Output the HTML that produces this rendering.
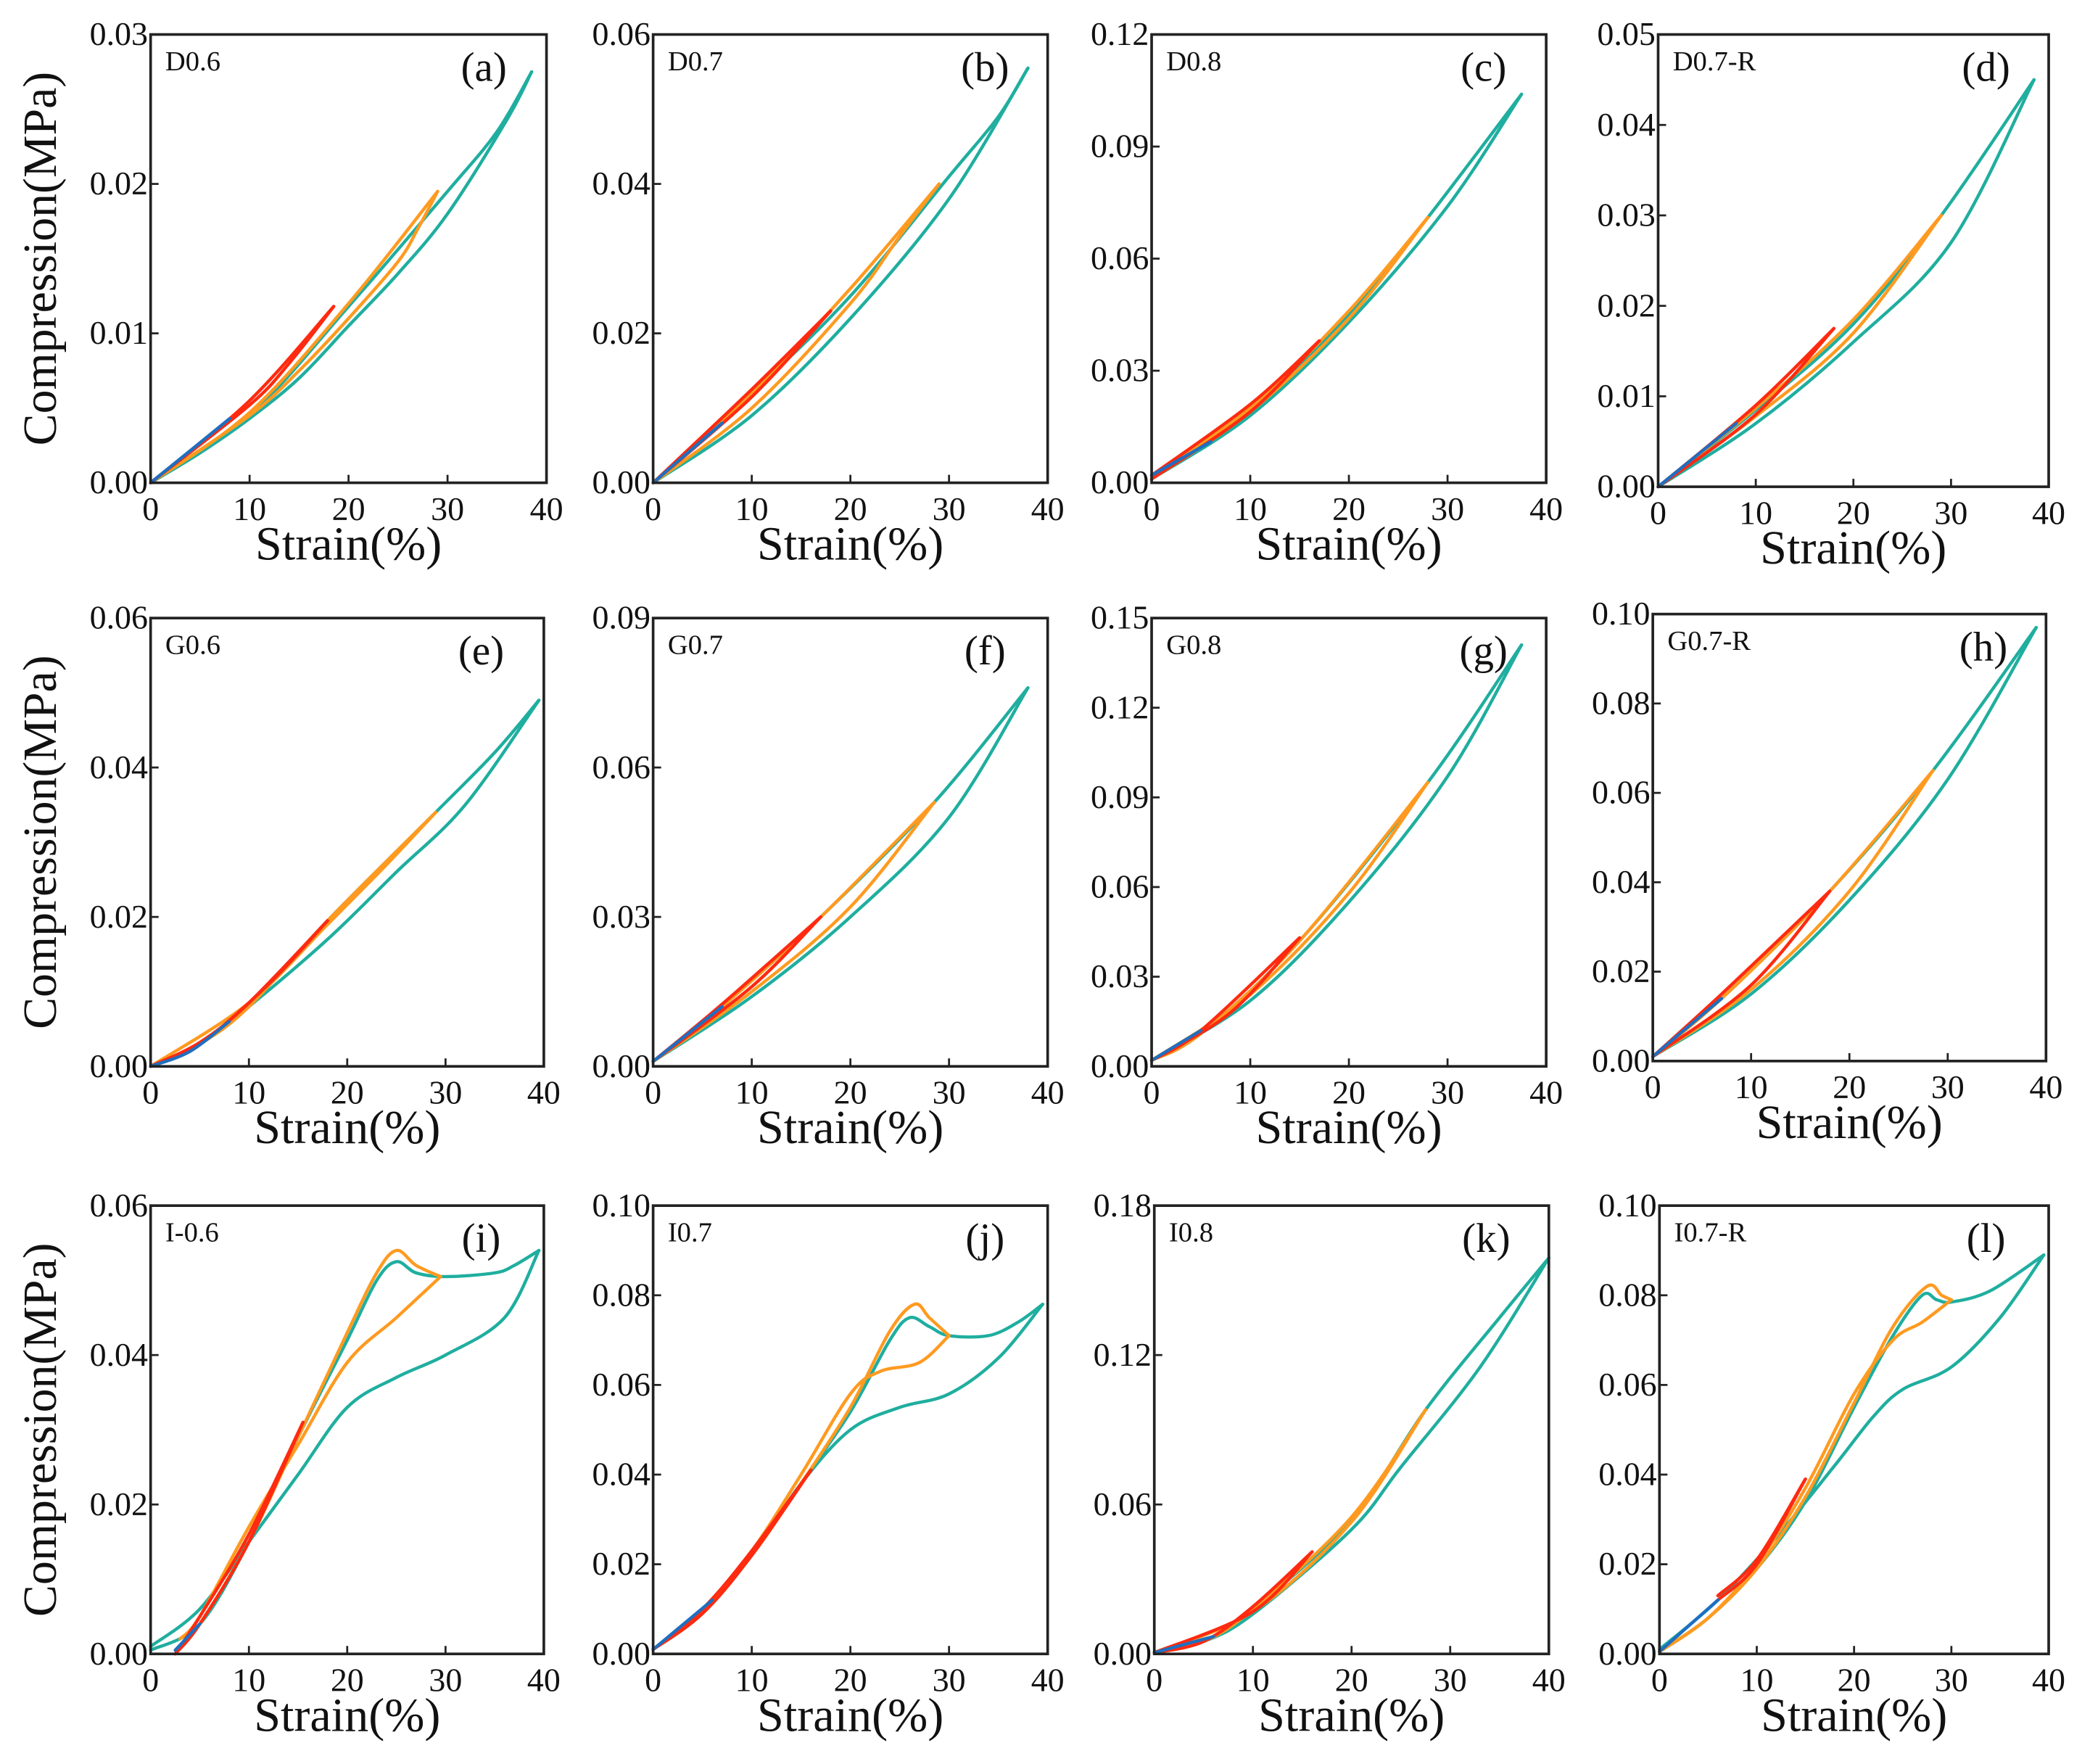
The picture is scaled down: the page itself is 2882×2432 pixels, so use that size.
<!DOCTYPE html>
<html><head><meta charset="utf-8"><style>
html,body{margin:0;padding:0;background:#fff;}
svg{display:block;font-family:"Liberation Serif","Times New Roman",serif;}
svg text{font-family:"Liberation Serif","Times New Roman",serif;fill:#111;}
</style></head><body>
<svg id="fig" width="2882" height="2432" viewBox="0 0 1568 1330" preserveAspectRatio="none" font-family="Liberation Serif, serif" xmlns="http://www.w3.org/2000/svg"></svg>
<script>
// ---- data (strain %, stress MPa) ----
const aTealUp=[[0,0],[10,0.0045],[20,0.0118],[30,0.0195],[35,0.0235],[38.5,0.0275]];
const aTealDown=[[38.5,0.0275],[36,0.0243],[30,0.018],[25,0.014],[20,0.0105],[15,0.007],[10,0.0043],[5,0.002],[0,0]];
const aOrUp=[[0,0],[10,0.0047],[20,0.012],[29,0.0195]];
const aOrDown=[[29,0.0195],[27,0.017],[25,0.0148],[20,0.011],[15,0.0075],[10,0.0045],[0,0]];
const aRedUp=[[0,0],[10,0.0055],[18.5,0.0118]];
const aRedDown=[[18.5,0.0118],[14,0.008],[10,0.0052],[0,0]];
const aBlue=[[0,0],[8,0.0043]];

const bTealUp=[[0,0],[10,0.012],[20,0.025],[30,0.041],[35,0.049],[38,0.0555]];
const bTealDown=[[38,0.0555],[30,0.038],[20,0.022],[10,0.009],[0,0]];
const bOrUp=[[0,0],[10,0.012],[20,0.026],[29,0.040]];
const bOrDown=[[29,0.040],[25,0.033],[20,0.024],[10,0.010],[0,0]];
const bRedUp=[[0,0],[10,0.0125],[18,0.023]];
const bRedDown=[[18,0.023],[10,0.0115],[0,0]];
const bBlue=[[0,0],[7,0.008]];

const cTealUp=[[0,0.002],[10,0.02],[20,0.045],[28,0.071],[37.5,0.104]];
const cTealDown=[[37.5,0.104],[30,0.074],[20,0.043],[10,0.018],[0,0.001]];
const cOrUp=[[0,0.002],[10,0.02],[20,0.046],[28,0.071]];
const cOrDown=[[28,0.071],[20,0.044],[10,0.019],[0,0.001]];
const cRedUp=[[0,0.002],[10,0.021],[17,0.038]];
const cRedDown=[[17,0.038],[10,0.019],[0,0.001]];
const cBlue=[[0,0.002],[6,0.011]];

const dTealUp=[[0,0],[10,0.0085],[20,0.018],[29,0.030],[38.5,0.045]];
const dTealDown=[[38.5,0.045],[30,0.027],[20,0.016],[10,0.007],[0,0]];
const dOrUp=[[0,0],[10,0.0087],[20,0.0185],[29,0.030]];
const dOrDown=[[29,0.030],[20,0.017],[10,0.0078],[0,0]];
const dRedUp=[[0,0],[10,0.009],[18,0.0175]];
const dRedDown=[[18,0.0175],[10,0.008],[0,0]];
const dBlue=[[0,0],[8,0.007]];

const eTealUp=[[0,0],[5,0.003],[10,0.008],[18,0.0195],[29,0.034],[35,0.042],[39.5,0.049]];
const eTealDown=[[39.5,0.049],[32,0.035],[25,0.026],[18,0.017],[10,0.008],[5,0.003],[0,0]];
const eOrUp=[[0,0],[5,0.003],[10,0.008],[18,0.0195],[29,0.034]];
const eOrDown=[[29,0.034],[24,0.027],[18,0.019],[10,0.0085],[0,0]];
const eRedUp=[[0,0],[5,0.0032],[10,0.0085],[18,0.0195]];
const eRedDown=[[18,0.0195],[12,0.011],[5,0.003],[0,0]];
const eBlue=[[0,0],[4,0.002],[8,0.006]];

const fTealUp=[[0,0.001],[7,0.012],[17,0.030],[28.5,0.053],[38,0.076]];
const fTealDown=[[38,0.076],[30,0.05],[20,0.03],[10,0.014],[0,0.001]];
const fOrUp=[[0,0.001],[7,0.012],[17,0.030],[28.5,0.053]];
const fOrDown=[[28.5,0.053],[20,0.032],[10,0.015],[0,0.001]];
const fRedUp=[[0,0.001],[7,0.0125],[17,0.030]];
const fRedDown=[[17,0.030],[10,0.016],[0,0.001]];
const fBlue=[[0,0.001],[7,0.012]];

const gTealUp=[[0,0.002],[5,0.011],[15,0.042],[28,0.095],[37.5,0.141]];
const gTealDown=[[37.5,0.141],[30,0.097],[20,0.055],[10,0.022],[0,0.002]];
const gOrUp=[[0,0.002],[5,0.011],[15,0.042],[28,0.095]];
const gOrDown=[[28,0.095],[20,0.058],[10,0.024],[0,0.002]];
const gRedUp=[[0,0.002],[5,0.012],[15,0.043]];
const gRedDown=[[15,0.043],[8,0.018],[0,0.002]];
const gBlue=[[0,0.002],[5,0.012]];

const hTealUp=[[0,0.001],[7,0.014],[18,0.038],[28.5,0.065],[39,0.097]];
const hTealDown=[[39,0.097],[30,0.063],[20,0.036],[10,0.015],[0,0.001]];
const hOrUp=[[0,0.001],[7,0.014],[18,0.038],[28.5,0.065]];
const hOrDown=[[28.5,0.065],[20,0.038],[10,0.016],[0,0.001]];
const hRedUp=[[0,0.001],[7,0.015],[18,0.038]];
const hRedDown=[[18,0.038],[10,0.017],[0,0.001]];
const hBlue=[[0,0.001],[7,0.014]];

const iTealUp=[[0,0.0005],[5,0.004],[10,0.015],[15,0.029],[20,0.042],[23,0.050],[25,0.0525],[27,0.051],[30,0.0505],[35,0.051],[37,0.052],[39.5,0.054]];
const iTealDown=[[39.5,0.054],[36,0.045],[30,0.040],[25,0.037],[20,0.033],[15,0.024],[10,0.015],[5,0.006],[0,0.001]];
const iOrUp=[[3,0.001],[5,0.004],[10,0.015],[15,0.029],[20,0.043],[23,0.051],[25,0.054],[27,0.052],[29.5,0.0505]];
const iOrDown=[[29.5,0.0505],[25,0.045],[20,0.039],[15,0.028],[10,0.017],[5,0.005],[3,0.002]];
const iRedUp=[[2.5,0],[5,0.004],[10,0.015],[15.5,0.031]];
const iRedDown=[[15.5,0.031],[10,0.016],[5,0.005],[2.5,0]];
const iBlue=[[2.5,0.0005],[5,0.004]];

const jTealUp=[[0,0.001],[5,0.01],[10,0.022],[15,0.038],[20,0.054],[24,0.070],[26,0.075],[28,0.073],[30,0.071],[34,0.071],[37,0.074],[39.5,0.078]];
const jTealDown=[[39.5,0.078],[35,0.066],[30,0.058],[25,0.055],[20,0.050],[15,0.038],[10,0.022],[5,0.009],[0,0.001]];
const jOrUp=[[0,0.001],[5,0.01],[10,0.022],[15,0.038],[20,0.055],[24,0.072],[26.5,0.078],[28,0.075],[30,0.071]];
const jOrDown=[[30,0.071],[27,0.065],[23,0.063],[20,0.058],[15,0.040],[10,0.023],[5,0.01],[0,0.001]];
const jRedUp=[[0,0.001],[5,0.01],[10,0.023],[16,0.041]];
const jRedDown=[[16,0.041],[10,0.022],[5,0.009],[0,0.001]];
const jBlue=[[0,0.001],[6,0.012]];

const kTealUp=[[0,0.0005],[5,0.005],[10,0.018],[20,0.054],[27.5,0.098],[35,0.135],[40,0.159]];
const kTealDown=[[40,0.159],[33,0.115],[25,0.075],[20,0.05],[10,0.016],[5,0.005],[0,0.0005]];
const kOrUp=[[0,0.0005],[5,0.005],[10,0.018],[20,0.055],[27.5,0.098]];
const kOrDown=[[27.5,0.098],[20,0.053],[10,0.017],[0,0.0005]];
const kRedUp=[[0,0.0005],[5,0.005],[10,0.019],[16,0.041]];
const kRedDown=[[16,0.041],[10,0.017],[0,0.0005]];
const kBlue=[[0,0.0005],[6,0.007]];

const lTealUp=[[0,0.0005],[5,0.008],[10,0.019],[15,0.034],[20,0.055],[24,0.071],[27,0.080],[28.5,0.079],[30,0.0785],[34,0.081],[39.5,0.089]];
const lTealDown=[[39.5,0.089],[35,0.075],[30,0.064],[25,0.059],[22,0.053],[18,0.042],[12,0.026],[6,0.012],[0,0.001]];
const lOrUp=[[0,0.0005],[5,0.008],[10,0.019],[15,0.035],[20,0.056],[24,0.073],[27.5,0.082],[29,0.080],[30,0.079]];
const lOrDown=[[30,0.079],[27,0.074],[24,0.070],[20,0.058],[15,0.037],[10,0.02],[5,0.008],[0,0.0005]];
const lRedUp=[[6,0.013],[10,0.021],[15,0.039]];
const lRedDown=[[15,0.039],[10,0.02],[6,0.012]];
const lBlue=[[0,0.0005],[6,0.012]];

const yMaxes=[0.03,0.06,0.12,0.05,0.06,0.09,0.15,0.10,0.06,0.10,0.18,0.10];
const yTickLabels=[
 ["0.00","0.01","0.02","0.03"],["0.00","0.02","0.04","0.06"],["0.00","0.03","0.06","0.09","0.12"],["0.00","0.01","0.02","0.03","0.04","0.05"],
 ["0.00","0.02","0.04","0.06"],["0.00","0.03","0.06","0.09"],["0.00","0.03","0.06","0.09","0.12","0.15"],["0.00","0.02","0.04","0.06","0.08","0.10"],
 ["0.00","0.02","0.04","0.06"],["0.00","0.02","0.04","0.06","0.08","0.10"],["0.00","0.06","0.12","0.18"],["0.00","0.02","0.04","0.06","0.08","0.10"]];
const xTickLabels=["0","10","20","30","40"];
const sampleNames=["D0.6","D0.7","D0.8","D0.7-R","G0.6","G0.7","G0.8","G0.7-R","I-0.6","I0.7","I0.8","I0.7-R"];
const panelLetters=["(a)","(b)","(c)","(d)","(e)","(f)","(g)","(h)","(i)","(j)","(k)","(l)"];
const seriesSets=[
 [aTealUp,aTealDown,aOrUp,aOrDown,aRedUp,aRedDown,aBlue],[bTealUp,bTealDown,bOrUp,bOrDown,bRedUp,bRedDown,bBlue],
 [cTealUp,cTealDown,cOrUp,cOrDown,cRedUp,cRedDown,cBlue],[dTealUp,dTealDown,dOrUp,dOrDown,dRedUp,dRedDown,dBlue],
 [eTealUp,eTealDown,eOrUp,eOrDown,eRedUp,eRedDown,eBlue],[fTealUp,fTealDown,fOrUp,fOrDown,fRedUp,fRedDown,fBlue],
 [gTealUp,gTealDown,gOrUp,gOrDown,gRedUp,gRedDown,gBlue],[hTealUp,hTealDown,hOrUp,hOrDown,hRedUp,hRedDown,hBlue],
 [iTealUp,iTealDown,iOrUp,iOrDown,iRedUp,iRedDown,iBlue],[jTealUp,jTealDown,jOrUp,jOrDown,jRedUp,jRedDown,jBlue],
 [kTealUp,kTealDown,kOrUp,kOrDown,kRedUp,kRedDown,kBlue],[lTealUp,lTealDown,lOrUp,lOrDown,lRedUp,lRedDown,lBlue]];

// ---- layout (viewBox units) ----
const boxes=[[113,26,410,364],[490,26,786,364],[864,26,1160,364],[1244,26,1537,367],
 [113,466,408,804],[490,466,786,804],[864,466,1160,804],[1240,463,1535,800],
 [113,909,408,1247],[490,909,786,1247],[866,909,1162,1247],[1245,909,1537,1247]];
const colors=["#1fae9f","#1fae9f","#ff9a20","#ff9a20","#ff2a10","#ff2a10","#1f6fc0"];
const seriesNames=["teal-loading","teal-unloading","orange-loading","orange-unloading","red-loading","red-unloading","blue-loading"];
const FONT='"Liberation Serif", "Times New Roman", serif';

const NS="http://www.w3.org/2000/svg";
const svg=document.getElementById('fig');
function mk(tag,attrs,parent,txt){const e=document.createElementNS(NS,tag);for(const k in attrs)e.setAttribute(k,attrs[k]);if(txt!==undefined){e.textContent=txt;e.setAttribute('font-family',FONT);e.style.fontFamily=FONT;}parent.appendChild(e);return e;}
function smooth(pts){
 if(pts.length<3)return "M"+pts.map(p=>p[0].toFixed(2)+","+p[1].toFixed(2)).join(" L");
 let d="M"+pts[0][0].toFixed(2)+","+pts[0][1].toFixed(2);
 for(let i=0;i<pts.length-1;i++){
  const p0=pts[Math.max(i-1,0)],p1=pts[i],p2=pts[i+1],p3=pts[Math.min(i+2,pts.length-1)];
  const c1=[p1[0]+(p2[0]-p0[0])/6,p1[1]+(p2[1]-p0[1])/6],c2=[p2[0]-(p3[0]-p1[0])/6,p2[1]-(p3[1]-p1[1])/6];
  d+=" C"+c1.map(v=>v.toFixed(2))+" "+c2.map(v=>v.toFixed(2))+" "+p2.map(v=>v.toFixed(2));
 }
 return d;
}

boxes.forEach((b,pi)=>{
 const [x0,y0,x1,y1]=b;
 const ymax=yMaxes[pi];
 const sx=v=>x0+(v/40)*(x1-x0);
 const sy=v=>y1-(v/ymax)*(y1-y0);
 const g=mk('g',{},svg);
 
 
 seriesSets[pi].forEach((arr,si)=>{
  const p=mk('path',{d:smooth(arr.map(q=>[sx(q[0]),sy(q[1])])),fill:'none',stroke:colors[si],'stroke-width':2.4,'stroke-linejoin':'round','stroke-linecap':'round'},g);
  
  
 });
 const fr=mk('rect',{x:x0,y:y0,width:x1-x0,height:y1-y0,fill:'none',stroke:'#222','stroke-width':2},g);
 
 
 yTickLabels[pi].forEach(lab=>{
  const y=sy(parseFloat(lab));
  mk('line',{x1:x0,x2:x0+6,y1:y,y2:y,stroke:'#222','stroke-width':1.5},g);
  const t=mk('text',{x:x0-2,y:y+8,'text-anchor':'end','font-size':25},g,lab);
  
  
 });
 xTickLabels.forEach(lab=>{
  const x=sx(parseFloat(lab));
  mk('line',{x1:x,x2:x,y1:y1,y2:y1-6,stroke:'#222','stroke-width':1.5},g);
  const t=mk('text',{x:x,y:y1+28,'text-anchor':'middle','font-size':25},g,lab);
  
  
 });
 const xt=mk('text',{x:(x0+x1)/2,y:y1+58,'text-anchor':'middle','font-size':36},g,'Strain(%)');
 
 
 if(pi%4===0){
  const cy=(y0+y1)/2;
  const yt=mk('text',{x:42,y:cy,'text-anchor':'middle','font-size':36,transform:'rotate(-90 42 '+cy+')'},g,'Compression(MPa)');
  
  
 }
 const sn=mk('text',{x:x0+11,y:y0+27,'font-size':21},g,sampleNames[pi]);
 
 
 const pl=mk('text',{x:x1-47,y:y0+35,'text-anchor':'middle','font-size':31},g,panelLetters[pi]);
 
 
});
</script>
</body></html>
